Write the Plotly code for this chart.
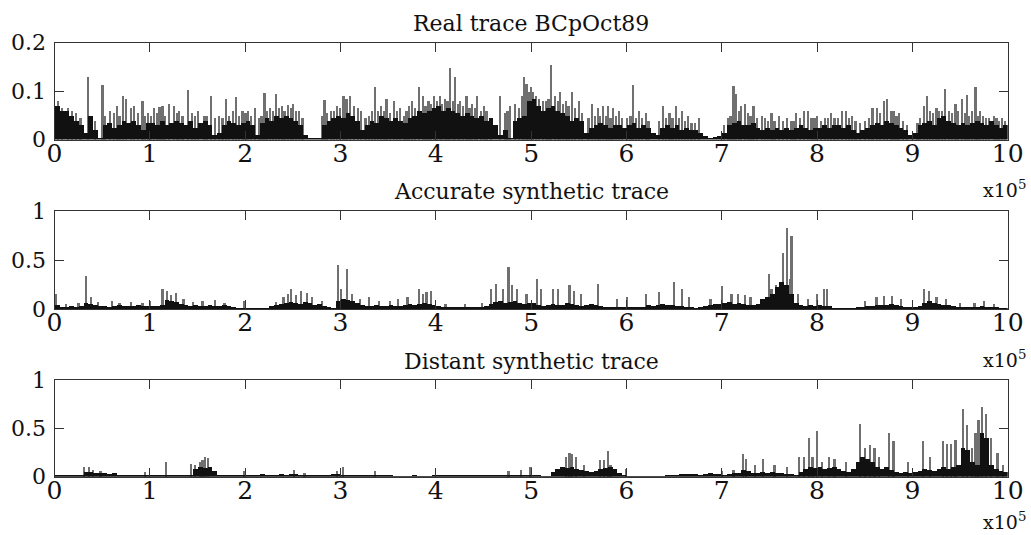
import numpy as np
import plotly.graph_objects as go

# ---------------- data ----------------
BIN = 5000  # samples per body bin
x_ticks = [i * 100000 for i in range(11)]
x_tick_labels = [str(i) for i in range(11)]

titles = ["Real trace BCpOct89", "Accurate synthetic trace", "Distant synthetic trace"]
y_ticks_real = [0, 0.1, 0.2]
y_ticks_syn = [0, 0.5, 1]

# dense body level (per 5000-sample bin)
real_body = [
    0.07, 0.06, 0.06, 0.05, 0.04, 0.03, 0.015, 0.05, 0.02, 0.005,
    0.03, 0.035, 0.025, 0.03, 0.04, 0.035, 0.04, 0.03, 0.02, 0.035,
    0.035, 0.03, 0.04, 0.03, 0.035, 0.04, 0.035, 0.03, 0.04, 0.025,
    0.035, 0.04, 0.03, 0.01, 0.015, 0.03, 0.04, 0.035, 0.03, 0.035,
    0.04, 0.03, 0.01, 0.035, 0.045, 0.04, 0.05, 0.045, 0.05, 0.045,
    0.04, 0.03, 0.01, 0.005, 0.004, 0.004, 0.03, 0.04, 0.045, 0.05,
    0.045, 0.055, 0.05, 0.04, 0.02, 0.03, 0.04, 0.035, 0.05, 0.045,
    0.04, 0.045, 0.04, 0.035, 0.045, 0.05, 0.06, 0.055, 0.06, 0.065,
    0.07, 0.06, 0.065, 0.06, 0.055, 0.05, 0.055, 0.05, 0.045, 0.05,
    0.04, 0.045, 0.03, 0.01, 0.02, 0.005, 0.04, 0.045, 0.05, 0.08,
    0.085, 0.07, 0.06, 0.065, 0.07, 0.06, 0.055, 0.05, 0.04, 0.045,
    0.04, 0.015, 0.025, 0.03, 0.035, 0.03, 0.025, 0.03, 0.03, 0.025,
    0.03, 0.035, 0.025, 0.03, 0.025, 0.015, 0.01, 0.025, 0.03, 0.025,
    0.03, 0.02, 0.025, 0.02, 0.02, 0.015, 0.008, 0.005, 0.006, 0.008,
    0.015, 0.03, 0.035, 0.04, 0.03, 0.03, 0.035, 0.025, 0.02, 0.025,
    0.02, 0.025, 0.02, 0.025, 0.02, 0.025, 0.03, 0.025, 0.02, 0.025,
    0.025, 0.03, 0.025, 0.03, 0.03, 0.025, 0.03, 0.02, 0.015, 0.02,
    0.025, 0.03, 0.035, 0.03, 0.04, 0.035, 0.03, 0.025, 0.02, 0.01,
    0.015, 0.03, 0.035, 0.04, 0.03, 0.045, 0.05, 0.04, 0.035, 0.03,
    0.035, 0.03, 0.035, 0.04, 0.035, 0.03, 0.04, 0.03, 0.025, 0.03,
]
real_spike_pos = [
    35000, 50000, 58000, 65000, 72000, 75000, 80000, 83000, 92000, 98000,
    104000, 110000, 113000, 120000, 125000, 130000, 140000, 150000, 157000, 164000,
    172000, 180000, 187000, 190000, 197000, 203000, 210000, 220000, 226000, 232000,
    238000, 245000, 250000, 256000, 283000, 290000, 296000, 303000, 306000, 310000,
    318000, 326000, 336000, 342000, 348000, 356000, 362000, 372000, 375000, 382000,
    386000, 392000, 398000, 404000, 409000, 415000, 420000, 425000, 432000, 438000,
    443000, 450000, 467000, 478000, 483000, 492000, 495000, 500000, 505000, 512000,
    521000, 525000, 530000, 536000, 543000, 550000, 564000, 570000, 575000, 580000,
    586000, 592000, 607000, 613000, 620000, 638000, 645000, 652000, 658000, 664000,
    676000, 712000, 715000, 720000, 724000, 733000, 742000, 752000, 760000, 778000,
    786000, 790000, 800000, 814000, 826000, 830000, 836000, 858000, 863000, 870000,
    873000, 880000, 886000, 912000, 915000, 925000, 928000, 934000, 945000, 952000,
    957000, 962000, 966000, 971000, 985000,
    3000, 8000, 14000, 18000, 22000, 27000, 42000, 53000, 62000, 68000,
    87000, 95000, 101000, 107000, 116000, 128000, 134000, 144000, 147000, 160000,
    168000, 176000, 183000, 193000, 200000, 206000, 214000, 217000, 223000, 229000,
    235000, 241000, 248000, 253000, 260000, 280000, 286000, 293000, 299000, 314000,
    321000, 330000, 333000, 339000, 345000, 352000, 359000, 366000, 369000, 378000,
    389000, 395000, 401000, 406000, 412000, 418000, 423000, 428000, 435000, 441000,
    447000, 453000, 458000, 472000, 475000, 487000, 490000, 497000, 502000, 508000,
    515000, 518000, 528000, 533000, 539000, 546000, 553000, 560000, 567000, 572000,
    578000, 583000, 589000, 595000, 600000, 604000, 610000, 616000, 623000, 634000,
    641000, 648000, 655000, 661000, 668000, 672000, 702000, 706000, 709000, 718000,
    727000, 730000, 737000, 745000, 748000, 755000, 764000, 768000, 772000, 775000,
    782000, 794000, 797000, 804000, 808000, 811000, 818000, 822000, 833000, 840000,
    845000, 850000, 854000, 866000, 877000, 883000, 890000, 894000, 905000, 908000,
    918000, 921000, 931000, 938000, 941000, 948000, 955000, 959000, 968000, 974000,
    977000, 980000, 988000, 991000, 994000, 997000,
]
real_spike_val = [
    0.129, 0.113, 0.06, 0.07, 0.09, 0.085, 0.065, 0.07, 0.08, 0.055,
    0.065, 0.068, 0.07, 0.075, 0.07, 0.06, 0.103, 0.06, 0.05, 0.091,
    0.05, 0.084, 0.06, 0.088, 0.06, 0.06, 0.065, 0.097, 0.065, 0.095,
    0.07, 0.072, 0.075, 0.06, 0.083, 0.06, 0.07, 0.09, 0.085, 0.09,
    0.065, 0.045, 0.11, 0.07, 0.085, 0.08, 0.065, 0.07, 0.08, 0.11,
    0.09, 0.08, 0.09, 0.09, 0.085, 0.148, 0.13, 0.08, 0.09, 0.075,
    0.09, 0.07, 0.09, 0.07, 0.075, 0.13, 0.115, 0.11, 0.09, 0.08,
    0.155, 0.09, 0.1, 0.08, 0.1, 0.08, 0.075, 0.065, 0.07, 0.07,
    0.065, 0.06, 0.114, 0.06, 0.055, 0.07, 0.055, 0.07, 0.06, 0.05,
    0.045, 0.112, 0.095, 0.07, 0.075, 0.07, 0.05, 0.055, 0.05, 0.055,
    0.06, 0.06, 0.05, 0.055, 0.06, 0.06, 0.05, 0.065, 0.065, 0.08,
    0.085, 0.06, 0.055, 0.07, 0.09, 0.065, 0.06, 0.105, 0.075, 0.085,
    0.092, 0.06, 0.11, 0.06, 0.05,
    0.08, 0.065, 0.065, 0.06, 0.055, 0.045, 0.04, 0.05, 0.055, 0.05,
    0.055, 0.05, 0.05, 0.055, 0.05, 0.055, 0.05, 0.055, 0.05, 0.05,
    0.045, 0.045, 0.05, 0.05, 0.055, 0.05, 0.045, 0.05, 0.06, 0.06,
    0.065, 0.06, 0.065, 0.06, 0.045, 0.05, 0.055, 0.06, 0.065, 0.07,
    0.06, 0.05, 0.06, 0.06, 0.06, 0.055, 0.06, 0.05, 0.06, 0.065,
    0.07, 0.075, 0.08, 0.075, 0.08, 0.08, 0.075, 0.07, 0.065, 0.065,
    0.06, 0.06, 0.045, 0.055, 0.06, 0.065, 0.09, 0.1, 0.1, 0.085,
    0.08, 0.085, 0.08, 0.075, 0.07, 0.065, 0.055, 0.045, 0.05, 0.05,
    0.05, 0.045, 0.05, 0.045, 0.045, 0.05, 0.045, 0.045, 0.04, 0.04,
    0.045, 0.045, 0.045, 0.04, 0.035, 0.035, 0.03, 0.045, 0.05, 0.06,
    0.055, 0.05, 0.045, 0.045, 0.04, 0.04, 0.04, 0.045, 0.04, 0.04,
    0.045, 0.045, 0.045, 0.04, 0.045, 0.045, 0.045, 0.045, 0.045, 0.04,
    0.035, 0.04, 0.045, 0.055, 0.06, 0.05, 0.04, 0.03, 0.035, 0.045,
    0.06, 0.055, 0.06, 0.06, 0.055, 0.06, 0.055, 0.05, 0.05, 0.05,
    0.045, 0.045, 0.045, 0.04, 0.045, 0.04,
]

acc_body = [
    0.04, 0.025, 0.02, 0.03, 0.025, 0.03, 0.06, 0.05, 0.04, 0.03,
    0.03, 0.025, 0.035, 0.04, 0.03, 0.035, 0.03, 0.04, 0.035, 0.03,
    0.03, 0.035, 0.04, 0.09, 0.08, 0.07, 0.05, 0.04, 0.035, 0.04,
    0.035, 0.03, 0.04, 0.035, 0.03, 0.04, 0.03, 0.025, 0.01, 0.008,
    0.006, 0.005, 0.005, 0.008, 0.01, 0.03, 0.04, 0.05, 0.06, 0.07,
    0.06, 0.05, 0.07, 0.06, 0.04, 0.05, 0.03, 0.02, 0.01, 0.08,
    0.1, 0.09, 0.08, 0.06, 0.04, 0.035, 0.03, 0.04, 0.035, 0.03,
    0.04, 0.035, 0.03, 0.04, 0.05, 0.04, 0.05, 0.06, 0.05, 0.04,
    0.03, 0.025, 0.02, 0.025, 0.02, 0.015, 0.02, 0.02, 0.025, 0.02,
    0.03, 0.05, 0.07, 0.08, 0.06, 0.07, 0.08, 0.06, 0.05, 0.06,
    0.06, 0.04, 0.035, 0.04, 0.05, 0.04, 0.045, 0.06, 0.05, 0.04,
    0.035, 0.04, 0.05, 0.04, 0.03, 0.025, 0.02, 0.02, 0.025, 0.02,
    0.02, 0.015, 0.02, 0.025, 0.04, 0.035, 0.04, 0.05, 0.045, 0.04,
    0.035, 0.03, 0.025, 0.015, 0.01, 0.02, 0.03, 0.04, 0.05, 0.05,
    0.06, 0.07, 0.055, 0.06, 0.05, 0.045, 0.04, 0.05, 0.1, 0.12,
    0.15, 0.22, 0.28, 0.25, 0.15, 0.06, 0.04, 0.035, 0.04, 0.035,
    0.04, 0.03, 0.03, 0.01, 0.005, 0.005, 0.006, 0.01, 0.02, 0.025,
    0.03, 0.035, 0.04, 0.045, 0.04, 0.05, 0.04, 0.03, 0.02, 0.025,
    0.02, 0.03, 0.06, 0.08, 0.06, 0.05, 0.04, 0.04, 0.03, 0.025,
    0.02, 0.025, 0.02, 0.025, 0.03, 0.02, 0.025, 0.02, 0.01, 0.005,
]
acc_spike_pos = [
    1000, 12000, 25000, 33000, 38000, 45000, 60000, 68000, 80000, 92000,
    100000, 113000, 118000, 122000, 127000, 135000, 145000, 155000, 168000, 178000,
    199000, 232000, 240000, 245000, 248000, 253000, 258000, 265000, 270000, 280000,
    297000, 300000, 307000, 312000, 320000, 330000, 340000, 352000, 360000, 370000,
    382000, 386000, 390000, 395000, 410000, 430000, 448000, 458000, 463000, 470000,
    476000, 480000, 485000, 495000, 506000, 510000, 523000, 528000, 540000, 545000,
    552000, 570000, 590000, 600000, 620000, 634000, 650000, 658000, 665000, 688000,
    700000, 710000, 717000, 724000, 730000, 749000, 752000, 757000, 764000, 768000,
    771000, 773000, 780000, 790000, 800000, 807000, 810000, 850000, 862000, 870000,
    878000, 888000, 912000, 917000, 925000, 935000, 950000, 965000, 975000, 985000,
]
acc_spike_val = [
    0.15, 0.05, 0.06, 0.34, 0.12, 0.07, 0.08, 0.06, 0.07, 0.06,
    0.08, 0.2, 0.18, 0.14, 0.16, 0.1, 0.07, 0.08, 0.09, 0.06,
    0.08, 0.07, 0.12, 0.15, 0.2, 0.14, 0.18, 0.16, 0.12, 0.08,
    0.45, 0.2, 0.41, 0.15, 0.1, 0.12, 0.08, 0.08, 0.1, 0.12,
    0.2, 0.15, 0.17, 0.18, 0.05, 0.05, 0.06, 0.2, 0.26, 0.2,
    0.43, 0.25, 0.2, 0.15, 0.31, 0.2, 0.2, 0.2, 0.25, 0.18,
    0.15, 0.26, 0.1, 0.12, 0.15, 0.17, 0.28, 0.2, 0.12, 0.1,
    0.23, 0.15, 0.15, 0.14, 0.12, 0.36, 0.2, 0.25, 0.57, 0.83,
    0.31, 0.75, 0.15, 0.1, 0.15, 0.2, 0.2, 0.08, 0.12, 0.13,
    0.13, 0.1, 0.2, 0.18, 0.12, 0.1, 0.06, 0.06, 0.08, 0.05,
]

dist_body = [
    0.015, 0.01, 0.012, 0.02, 0.015, 0.01, 0.045, 0.05, 0.04, 0.04,
    0.035, 0.03, 0.04, 0.02, 0.015, 0.012, 0.01, 0.015, 0.012, 0.01,
    0.012, 0.015, 0.01, 0.02, 0.015, 0.02, 0.018, 0.015, 0.02, 0.08,
    0.1, 0.09, 0.1, 0.06, 0.02, 0.015, 0.012, 0.01, 0.015, 0.012,
    0.015, 0.02, 0.015, 0.025, 0.02, 0.015, 0.02, 0.025, 0.02, 0.03,
    0.025, 0.015, 0.012, 0.015, 0.01, 0.015, 0.012, 0.015, 0.03, 0.025,
    0.015, 0.01, 0.008, 0.01, 0.012, 0.008, 0.01, 0.012, 0.015, 0.01,
    0.008, 0.006, 0.005, 0.006, 0.005, 0.008, 0.006, 0.005, 0.006, 0.008,
    0.01, 0.012, 0.01, 0.015, 0.012, 0.01, 0.012, 0.01, 0.012, 0.015,
    0.01, 0.012, 0.015, 0.012, 0.01, 0.012, 0.015, 0.012, 0.01, 0.012,
    0.01, 0.008, 0.006, 0.005, 0.05, 0.08, 0.1, 0.09, 0.1, 0.08,
    0.07, 0.06, 0.05, 0.06, 0.08, 0.09, 0.1, 0.08, 0.04, 0.015,
    0.004, 0.003, 0.003, 0.003, 0.004, 0.004, 0.003, 0.006, 0.008, 0.01,
    0.02, 0.025, 0.03, 0.025, 0.03, 0.02, 0.03, 0.035, 0.03, 0.025,
    0.02, 0.03, 0.035, 0.04, 0.07, 0.06, 0.04, 0.035, 0.05, 0.04,
    0.045, 0.04, 0.035, 0.03, 0.025, 0.02, 0.05, 0.08, 0.1, 0.09,
    0.1, 0.08, 0.09, 0.1, 0.08, 0.06, 0.05, 0.08, 0.15, 0.2,
    0.18, 0.15, 0.1, 0.08, 0.1, 0.07, 0.05, 0.04, 0.05, 0.04,
    0.05, 0.06, 0.08, 0.07, 0.06, 0.08, 0.1, 0.08, 0.1, 0.12,
    0.3, 0.28, 0.15, 0.12, 0.45, 0.4, 0.12, 0.08, 0.06, 0.05,
]
dist_spike_pos = [
    31000, 36000, 40000, 48000, 95000, 117000, 143000, 147000, 152000, 155000,
    158000, 161000, 199000, 251000, 262000, 296000, 302000, 336000, 476000, 489000,
    499000, 536000, 540000, 543000, 547000, 555000, 572000, 576000, 580000, 583000,
    599000, 700000, 712000, 722000, 725000, 735000, 743000, 755000, 768000, 781000,
    786000, 791000, 795000, 800000, 805000, 812000, 818000, 830000, 845000, 850000,
    855000, 860000, 865000, 875000, 880000, 895000, 911000, 918000, 932000, 936000,
    940000, 945000, 953000, 957000, 962000, 966000, 969000, 973000, 977000, 982000,
    989000, 995000,
]
dist_spike_val = [
    0.1, 0.1, 0.07, 0.06, 0.05, 0.15, 0.13, 0.12, 0.15, 0.17,
    0.2, 0.19, 0.06, 0.07, 0.04, 0.06, 0.1, 0.06, 0.06, 0.07,
    0.1, 0.2, 0.25, 0.23, 0.2, 0.12, 0.17, 0.17, 0.27, 0.12,
    0.08, 0.06, 0.07, 0.23, 0.18, 0.12, 0.18, 0.12, 0.1, 0.2,
    0.2, 0.4, 0.2, 0.47, 0.15, 0.2, 0.18, 0.15, 0.55, 0.3,
    0.33, 0.3, 0.2, 0.45, 0.37, 0.15, 0.37, 0.2, 0.37, 0.34,
    0.34, 0.38, 0.7, 0.53, 0.3, 0.45, 0.59, 0.72, 0.65, 0.4,
    0.25, 0.12,
]

# ---------------- figure ----------------
W, H = 1031, 535
FONT = "DejaVu Serif"
x0, x1 = 54.5 / W, 1007.7 / W
panels = [  # (top px, bottom px)
    (42.5, 139.5),
    (211.0, 309.0),
    (380.0, 476.7),
]
series = [
    (real_body, real_spike_pos, real_spike_val, [0, 0.2], y_ticks_real, ["0", "0.1", "0.2"]),
    (acc_body, acc_spike_pos, acc_spike_val, [0, 1], y_ticks_syn, ["0", "0.5", "1"]),
    (dist_body, dist_spike_pos, dist_spike_val, [0, 1], y_ticks_syn, ["0", "0.5", "1"]),
]

fig = go.Figure()
layout = dict(
    width=W, height=H, margin=dict(l=0, r=0, t=0, b=0, pad=0),
    paper_bgcolor="white", plot_bgcolor="white",
    showlegend=False, barmode="overlay", bargap=0,
    font=dict(family=FONT, color="#111"),
)
annotations = []
for i, ((top, bot), (body, sp_x, sp_y, yr, yt, ytl)) in enumerate(zip(panels, series)):
    n = "" if i == 0 else str(i + 1)
    xa, ya = "x" + n, "y" + n
    centers = np.arange(len(body)) * BIN + BIN / 2
    fig.add_trace(go.Bar(x=sp_x, y=sp_y, width=1800, marker=dict(color="#707070", line=dict(width=0)),
                         xaxis=xa, yaxis=ya, hoverinfo="skip"))
    fig.add_trace(go.Bar(x=centers, y=body, width=BIN, marker=dict(color="#111111", line=dict(width=0)),
                         xaxis=xa, yaxis=ya, hoverinfo="skip"))
    d0, d1 = 1 - bot / H, 1 - top / H
    layout["xaxis" + n] = dict(
        domain=[x0, x1], range=[0, 1000000], anchor=ya, automargin=False,
        tickvals=x_ticks, ticktext=x_tick_labels, ticklabelstandoff=-9,
        ticks="inside", ticklen=9, tickcolor="#333", showline=True, linecolor="#333",
        linewidth=1, mirror="ticks", showgrid=False, zeroline=False,
        tickfont=dict(family=FONT, size=25, color="#111"),
    )
    layout["yaxis" + n] = dict(
        domain=[d0, d1], range=yr, anchor=xa, automargin=False,
        tickvals=yt, ticktext=ytl, ticklabelstandoff=3,
        ticks="inside", ticklen=9, tickcolor="#333", showline=True, linecolor="#333",
        linewidth=1, mirror="ticks", showgrid=False, zeroline=False,
        tickfont=dict(family=FONT, size=22, color="#111"),
    )
    annotations.append(dict(text=titles[i], xref="paper", yref="paper",
                            x=(x0 + x1) / 2, y=1 - (top - 19) / H, xanchor="center", yanchor="middle",
                            showarrow=False, font=dict(family=FONT, size=22, color="#111")))

for ypx in (189, 359, 521):
    annotations.append(dict(text="x10<sup>5</sup>", xref="paper", yref="paper",
                            x=1028 / W, y=1 - ypx / H, xanchor="right", yanchor="middle",
                            showarrow=False, font=dict(family=FONT, size=19, color="#111")))
layout["annotations"] = annotations
fig.update_layout(**layout)
fig.write_html("out.html")
